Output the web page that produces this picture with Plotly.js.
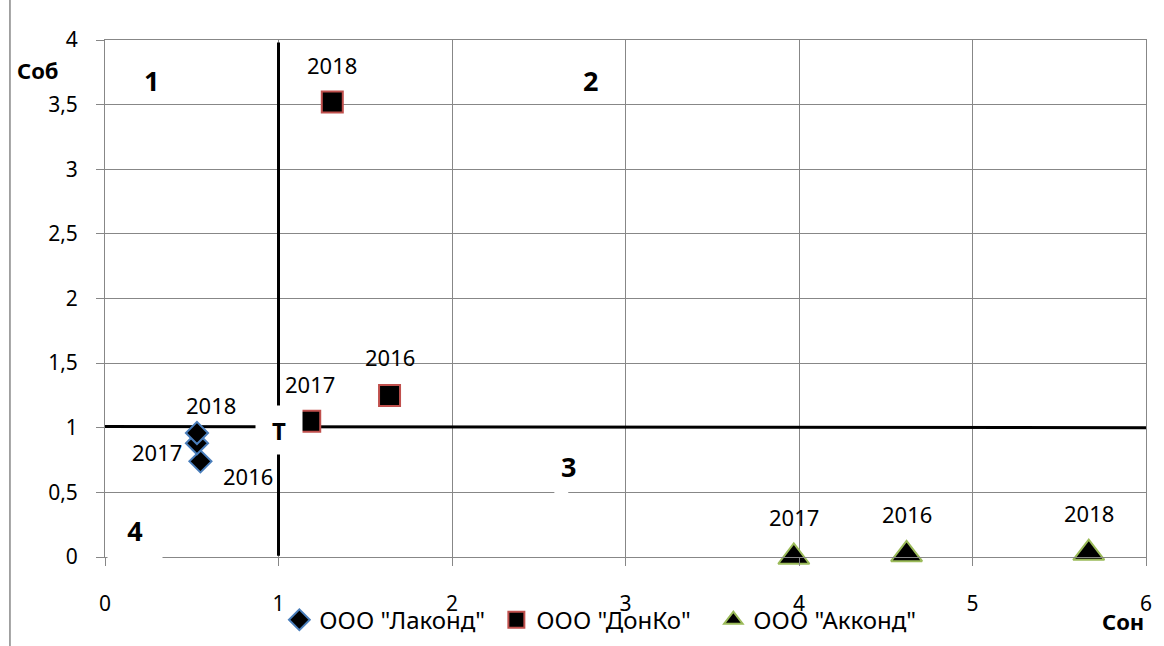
<!DOCTYPE html>
<html><head><meta charset="utf-8">
<script src="https://cdn.plot.ly/plotly-3.0.1.min.js"></script>
<style>body{margin:0;background:#fff}</style>
</head><body><div id="chart" style="width:1164px;height:646px"></div>
<script>
// ---- data ----
const years = ['2016', '2017', '2018'];
const lakondX = [0.55, 0.53, 0.53];
const lakondY = [0.74, 0.88, 0.96];
const donkoX = [1.64, 1.18, 1.31];
const donkoY = [1.25, 1.05, 3.52];
const akkondX = [4.62, 3.97, 5.67];
const akkondY = [0.02, 0.00, 0.03];
const seriesNames = ['ООО "Лаконд"', 'ООО "ДонКо"', 'ООО "Акконд"'];
const xTickVals = [0, 1, 2, 3, 4, 5, 6];
const yTickVals = [0, 0.5, 1, 1.5, 2, 2.5, 3, 3.5, 4];
const yTickText = ['0', '0,5', '1', '1,5', '2', '2,5', '3', '3,5', '4'];
const quadrantLabels = ['1', '2', '3', '4'];
const pointLabel = 'Т';
const axisTitles = ['Соб', 'Сон'];

// ---- styling ----
const FONT = 'Noto Sans, Open Sans, sans-serif';
const GRID = '#878787';
const labelOffsets = [
  [[48, -15], [-40, -9], [14, 28]],   // Лаконд: 2016, 2017, 2018
  [[0, 38], [0, 37], [0, 37]],        // ДонКо
  [[0, 40], [0, 40], [0, 40]]         // Акконд
];

const series = [
  {x: lakondX, y: lakondY, symbol: 'diamond', size: 17, line: '#4a7ebb'},
  {x: donkoX, y: donkoY, symbol: 'square', size: 21, line: '#c0504d'},
  {x: akkondX, y: akkondY, symbol: 'triangle-up', size: 27, line: '#9bbb59'}
];

const traces = series.map((s, i) => ({
  type: 'scatter', mode: 'markers', name: seriesNames[i],
  x: s.x, y: s.y, text: years, hoverinfo: 'name+x+y+text', cliponaxis: false,
  marker: {symbol: s.symbol, size: s.size, color: '#000000', line: {color: s.line, width: 2}}
}));

const annotations = [];
series.forEach((s, i) => {
  s.x.forEach((xv, j) => {
    annotations.push({x: xv, y: s.y[j], xref: 'x', yref: 'y', text: years[j], showarrow: false,
      xanchor: 'center', yanchor: 'middle',
      xshift: labelOffsets[i][j][0], yshift: labelOffsets[i][j][1],
      font: {family: FONT, size: 22, color: '#000'}});
  });
});

// quadrant labels
const qPos = [[0.27, 3.69], [2.80, 3.69], [2.67, 0.70], [0.17, 0.19]];
quadrantLabels.forEach((t, k) => {
  const a = {x: qPos[k][0], y: qPos[k][1], xref: 'x', yref: 'y', text: '<b>' + t + '</b>', showarrow: false,
    xanchor: 'center', yanchor: 'middle', font: {family: FONT, size: 27, color: '#000'}};
  if (k === 3) { a.bgcolor = '#ffffff'; a.width = 52; a.height = 48; a.yshift = -4; a.valign = 'top'; }
  annotations.push(a);
});
// T point label with white box making the gap in the lines
annotations.push({x: 1, y: 0.98, xref: 'x', yref: 'y', text: '<b>' + pointLabel + '</b>', showarrow: false,
  xanchor: 'center', yanchor: 'middle', bgcolor: '#ffffff', width: 44, height: 46,
  font: {family: FONT, size: 24, color: '#000'}});
// axis titles
annotations.push({x: -0.0644, y: 0.942, xref: 'paper', yref: 'paper', text: '<b>' + axisTitles[0] + '</b>',
  xanchor: 'center', yanchor: 'middle', showarrow: false, font: {family: FONT, size: 22, color: '#000'}});
annotations.push({x: 0.978, y: -0.124, xref: 'paper', yref: 'paper', text: '<b>' + axisTitles[1] + '</b>',
  xanchor: 'center', yanchor: 'middle', showarrow: false, font: {family: FONT, size: 22, color: '#000'}});

const shapes = [
  // vertical divider at Сон = 1
  {type: 'line', xref: 'x', yref: 'y', x0: 1, x1: 1, y0: 0.01, y1: 3.98, layer: 'between',
    line: {color: '#000', width: 3}},
  // horizontal divider at Соб ≈ 1
  {type: 'line', xref: 'x', yref: 'y', x0: 0, x1: 6, y0: 1.01, y1: 1.0, layer: 'between',
    line: {color: '#000', width: 3}},
  // small white gap near label 3
  {type: 'rect', xref: 'x', yref: 'y', x0: 2.59, x1: 2.67, y0: 0.49, y1: 0.51, layer: 'above',
    fillcolor: '#fff', line: {width: 0}},
  // chart frame left edge
  {type: 'line', xref: 'paper', yref: 'paper', x0: -0.0913, x1: -0.0913, y0: -0.175, y1: 1.08,
    line: {color: GRID, width: 1.5}}
];

const axisCommon = {
  showgrid: true, gridcolor: GRID, gridwidth: 1, zeroline: false, automargin: false,
  showline: true, linecolor: GRID, linewidth: 1, mirror: true,
  ticks: 'outside', ticklen: 8, tickcolor: GRID, tickwidth: 1,
  tickfont: {family: FONT, size: 21, color: '#000'}, fixedrange: true
};

const layout = {
  width: 1164, height: 646,
  margin: {l: 105, r: 18, t: 40, b: 89},
  paper_bgcolor: '#fff', plot_bgcolor: '#fff',
  font: {family: FONT, color: '#000'},
  separators: ',.',
  xaxis: Object.assign({}, axisCommon, {range: [0, 6], tickvals: xTickVals, ticklabelstandoff: 20}),
  yaxis: Object.assign({}, axisCommon, {range: [0, 4], tickvals: yTickVals, ticktext: yTickText, ticklabelstandoff: 14}),
  showlegend: true,
  legend: {orientation: 'h', xref: 'container', yref: 'container', x: 0.24, xanchor: 'left',
    y: 0.04, yanchor: 'middle',
    bgcolor: 'rgba(0,0,0,0)', font: {family: FONT, size: 24, color: '#000'},
    itemwidth: 30, tracegroupgap: 0, entrywidth: 172, entrywidthmode: 'pixels'},
  annotations: annotations,
  shapes: shapes
};

Plotly.newPlot('chart', traces, layout, {displayModeBar: false, staticPlot: true});
</script>
</body></html>
